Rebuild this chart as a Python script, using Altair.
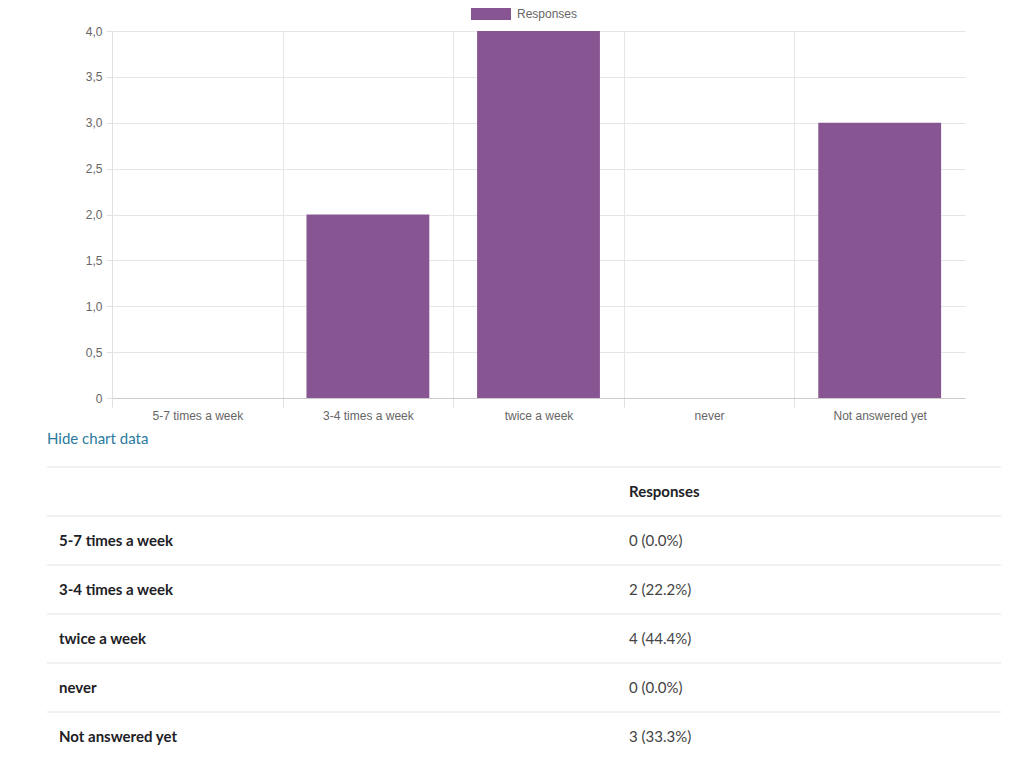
import altair as alt
import pandas as pd

categories = ["5-7 times a week", "3-4 times a week", "twice a week", "never", "Not answered yet"]
responses = [0, 2, 4, 0, 3]
series_name = "Responses"

BAR = "#875692"
AXIS_FONT = "Liberation Sans"
TABLE_FONT = "Lato"

total = sum(responses)
bars = pd.DataFrame({
    "category": categories,
    "value": responses,
    "series": [series_name] * len(categories),
})

y_labels = "datum.value == 0 ? '0' : replace(format(datum.value, '.1f'), '.', ',')"

# band step is 853/5 = 170.6; bars take 72% of it, grid sits halfway between bars
bar_chart = alt.Chart(bars).mark_bar(color=BAR).encode(
    x=alt.X(
        "category:N",
        sort=categories,
        title=None,
        scale=alt.Scale(paddingInner=0.28, paddingOuter=0.14),
        axis=alt.Axis(
            bandPosition=0,
            labelAngle=0, labelColor="#666666", labelFont=AXIS_FONT, labelFontSize=12,
            labelPadding=3, tickSize=9, tickColor="#e0e0e0", tickOffset=-23.9,
            labelOffset=23.9, domainColor="#cccccc", gridColor="#e6e6e6", grid=True,
        ),
    ),
    y=alt.Y(
        "value:Q",
        title=None,
        scale=alt.Scale(domain=[0, 4]),
        axis=alt.Axis(
            values=[0, 0.5, 1, 1.5, 2, 2.5, 3, 3.5, 4], labelExpr=y_labels,
            labelColor="#666666", labelFont=AXIS_FONT, labelFontSize=12,
            tickSize=6, tickColor="#e0e0e0", domainColor="#e0e0e0",
            gridColor="#e6e6e6", labelPadding=4,
        ),
    ),
    color=alt.Color(
        "series:N",
        scale=alt.Scale(domain=[series_name], range=[BAR]),
        legend=alt.Legend(
            title=None, orient="none", legendX=373, legendY=-23,
            symbolType="M-3.333,-1H3.333V1H-3.333Z", symbolSize=144, symbolStrokeWidth=0,
            labelFont=AXIS_FONT, labelFontSize=12, labelColor="#666666", labelOffset=20,
            padding=0,
        ),
    ),
).properties(width=853, height=367)

# table below the chart
row_keys = ["hide", "header"] + categories
values_text = [f"{v} ({v / total * 100:.1f}%)" for v in responses]
table = pd.DataFrame({
    "row": categories,
    "label": categories,
    "value": values_text,
})
head = pd.DataFrame({"row": ["header"], "label": [""], "value": [series_name]})
lines = pd.DataFrame({"row": ["header"] + categories})
hide = pd.DataFrame({"row": ["hide"], "text": ["Hide chart data"]})

ysc = alt.Scale(domain=row_keys, range=[-3, 340], paddingInner=0, paddingOuter=0)

rules = alt.Chart(lines).mark_rule(color="#dee2e6", strokeWidth=1).encode(
    y=alt.Y("row:N", scale=ysc, axis=None, bandPosition=0),
    x=alt.value(-65), x2=alt.value(889),
)
labels = alt.Chart(table).mark_text(
    align="left", baseline="middle", font=TABLE_FONT, fontSize=15, fontWeight="bold", color="#1d2125"
).encode(
    y=alt.Y("row:N", scale=ysc, axis=None), x=alt.value(-53), text="label:N",
)
vals = alt.Chart(table).mark_text(
    align="left", baseline="middle", font=TABLE_FONT, fontSize=15, color="#444444"
).encode(
    y=alt.Y("row:N", scale=ysc, axis=None), x=alt.value(517), text="value:N",
)
header = alt.Chart(head).mark_text(
    align="left", baseline="middle", font=TABLE_FONT, fontSize=15, fontWeight="bold", color="#1d2125"
).encode(
    y=alt.Y("row:N", scale=ysc, axis=None), x=alt.value(517), text="value:N",
)
hide_link = alt.Chart(hide).mark_text(
    align="left", baseline="middle", font=TABLE_FONT, fontSize=15, color="#2b7a9e", dy=-4
).encode(
    y=alt.Y("row:N", scale=ysc, axis=None), x=alt.value(-65), text="text:N",
)

table_chart = alt.layer(rules, labels, vals, header, hide_link).properties(width=853, height=343)

chart = alt.vconcat(bar_chart, table_chart, spacing=0).configure_view(
    strokeWidth=0
).properties(padding={"left": 38, "top": 0, "right": 0, "bottom": 0})

chart.save("out.html", embed_options={"renderer": "svg", "actions": False})
